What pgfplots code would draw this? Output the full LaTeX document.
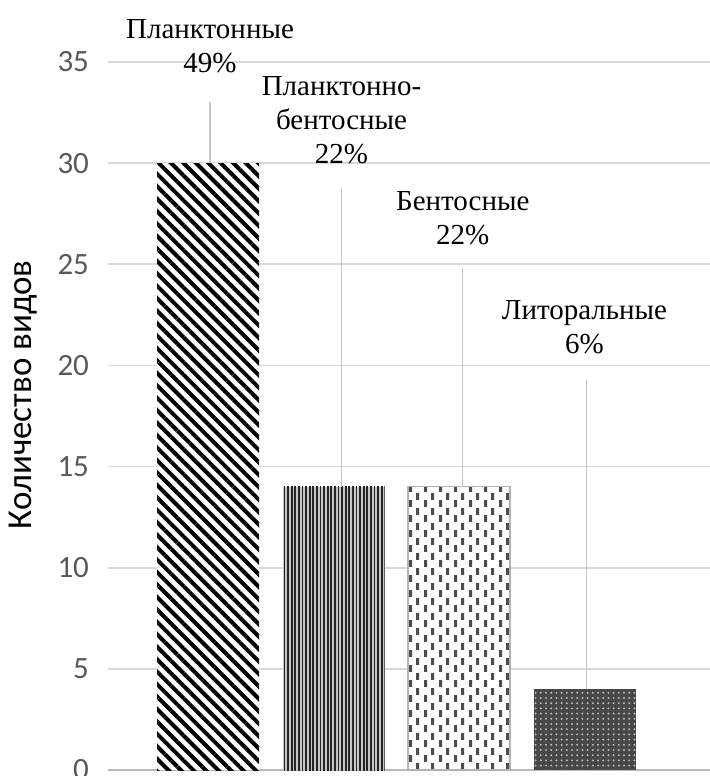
\documentclass[border=0pt]{standalone}
\usepackage{fontspec}
\setmainfont{Liberation Serif}
\newfontfamily\calibri{Carlito}
\usepackage{pgfplots}
\pgfplotsset{compat=1.18}
\usetikzlibrary{patterns, patterns.meta}

\pgfdeclarepatternformonly{dashes}{\pgfqpoint{0pt}{0pt}}{\pgfqpoint{7.3pt}{7.5pt}}{\pgfqpoint{7.3pt}{7.5pt}}{%
  \pgfpathrectangle{\pgfqpoint{0pt}{0pt}}{\pgfqpoint{1.6pt}{3.6pt}}%
  \pgfpathrectangle{\pgfqpoint{3.65pt}{3.75pt}}{\pgfqpoint{1.6pt}{3.6pt}}%
  \pgfusepath{fill}%
}

\begin{document}
\begin{tikzpicture}
\begin{axis}[
  scale only axis, width=301pt, height=354pt,
  xmin=-0.797, xmax=4.0, ymin=0, ymax=35,
  ytick={0,5,...,35}, xtick=\empty,
  ymajorgrids, grid style={gray!30, line width=0.8pt},
  axis x line*=bottom, axis y line*=left,
  y axis line style={draw=none},
  x axis line style={gray!55, line width=0.8pt},
  ytick style={draw=none},
  tick label style={font=\calibri\fontsize{15.5}{17}\selectfont, text=black!65},
  yticklabel style={xshift=-6pt},
  /pgf/number format/assume math mode=true,
  ylabel={Количество видов},
  ylabel style={font=\calibri\fontsize{17.5}{20}\selectfont, at={(rel axis cs:0,0.53)}, anchor=center, yshift=42.5pt},
  clip=false,
  bar width=51pt,
]
\coordinate (sw) at (rel axis cs:0,0);
\coordinate (ne) at (rel axis cs:1,1);

\addplot[ybar, bar shift=0pt, draw=none, fill=white, postaction={pattern={Lines[angle=-45, distance=4.4pt, line width=2pt]}, pattern color=black}] coordinates {(0,30)};
\addplot[ybar, bar shift=0pt, draw=none, fill=gray!45, postaction={pattern={Lines[angle=90, distance=1.8pt, line width=0.9pt]}, pattern color=black!85}] coordinates {(1,14)};
\addplot[ybar, bar shift=0pt, draw=gray!60, line width=0.6pt, fill=white, postaction={pattern=dashes, pattern color=black!70}] coordinates {(2,14)};
\addplot[ybar, bar shift=0pt, draw=none, fill=black!72, postaction={pattern={Dots[distance=2.6pt, radius=0.55pt]}, pattern color=gray!55}] coordinates {(3,4)};

\draw[gray!45, line width=0.6pt] (axis cs:0.016,33.0) -- (axis cs:0.016,30);
\draw[gray!45, line width=0.6pt] (axis cs:1.064,28.7) -- (axis cs:1.064,14);
\draw[gray!45, line width=0.6pt] (axis cs:2.03,24.8) -- (axis cs:2.03,14);
\draw[gray!45, line width=0.6pt] (axis cs:3.015,19.3) -- (axis cs:3.015,4);

\node[font=\fontsize{14.5}{17}\selectfont, align=center] at (axis cs:0.016,35.76) {Планктонные\\49\%};
\node[font=\fontsize{14.5}{17}\selectfont, align=center] at (axis cs:1.064,32.13) {Планктонно-\\бентосные\\22\%};
\node[font=\fontsize{14.5}{17}\selectfont, align=center] at (axis cs:2.03,27.26) {Бентосные\\22\%};
\node[font=\fontsize{14.5}{17}\selectfont, align=center] at (axis cs:3.0,21.87) {Литоральные\\6\%};
\end{axis}
\pgfresetboundingbox
\path[use as bounding box] ([xshift=-54pt,yshift=-3pt]sw) rectangle ([yshift=31pt]ne);
\end{tikzpicture}
\end{document}
